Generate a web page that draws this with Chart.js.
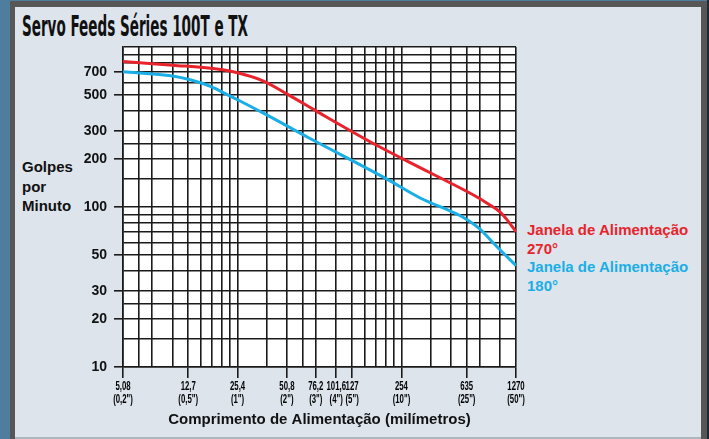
<!DOCTYPE html>
<html>
<head>
<meta charset="utf-8">
<script src="https://cdn.jsdelivr.net/npm/chart.js@4.4.1/dist/chart.umd.min.js"></script>
<style>
  html, body { margin: 0; padding: 0; }
  body { width: 709px; height: 439px; overflow: hidden; position: relative; background: #4e7d9d; font-family: "Liberation Sans", Arial, sans-serif; }
  #frame { position: absolute; left: 10px; top: 1px; width: 697px; height: 438px; background: #575757; }
  #panel { position: absolute; left: 15px; top: 7px; width: 686px; height: 430px; background: #dde4ec; border-bottom: 2px solid #aeb6be; }
  #edge { position: absolute; left: 707px; top: 0; width: 2px; height: 439px; background: #1c2a34; }
  #title { position: absolute; left: 22px; top: 13px; font: bold 28px/28px "Liberation Sans Narrow", "DejaVu Sans Condensed", sans-serif; color: #111; white-space: nowrap; transform-origin: left top; }
  .txt { position: absolute; font-weight: bold; font-size: 15px; white-space: nowrap; }
  #ytitle { left: 22px; top: 157px; line-height: 19.5px; color: #111; }
  #lbl270 { left: 527px; top: 220px; line-height: 19px; color: #e8232b; }
  #lbl180 { left: 527px; top: 257px; line-height: 19px; color: #1aaee6; }
  #box { position: absolute; left: 0; top: 0; width: 709px; height: 439px; }
</style>
</head>
<body>
<div id="frame"></div>
<div id="panel"></div>
<div id="edge"></div>
<div id="title">Servo Feeds Séries 100T e TX</div>
<div id="ytitle" class="txt">Golpes<br>por<br>Minuto</div>
<div id="lbl270" class="txt">Janela de Alimentação<br>270°</div>
<div id="lbl180" class="txt">Janela de Alimentação<br>180°</div>
<div id="box"><canvas id="chart"></canvas></div>
<script>
// feed length (mm) / strokes per minute
const red270X = [5.08, 10.2, 19, 25.4, 36, 52, 76, 178, 370, 762, 840, 1016, 1111, 1270];
const red270Y = [812, 770, 728, 690, 616, 502, 400, 244, 166, 113, 106, 93, 84, 70];
const blue180X = [5.08, 10.2, 13.2, 17.5, 22.1, 25.4, 37, 68.5, 206, 335, 520, 600, 762, 962, 1270];
const blue180Y = [700, 659, 622, 566, 502, 468, 383, 272, 150, 113, 93, 86.5, 73, 57, 43];

// grid lines
const xGrid = [5.08, 6.35, 7.62, 10.16, 12.7, 15.24, 17.78, 20.32, 22.86, 25.4, 38.1, 50.8, 63.5, 76.2,
  101.6, 127, 152.4, 177.8, 203.2, 228.6, 254, 381, 508, 635, 762, 1016, 1270];
const yGrid = [10, 15, 20, 25, 30, 40, 50, 60, 70, 80, 90, 100, 150, 200, 250, 300, 400, 500, 600, 700, 800, 900, 1000];

// labelled ticks
const xTickValues = [5.08, 12.7, 25.4, 50.8, 76.2, 101.6, 127, 254, 635, 1270];
const xTickMm = ["5,08", "12,7", "25,4", "50,8", "76,2", "101,6", "127", "254", "635", "1270"];
const xTickInch = ['(0,2")', '(0,5")', '(1")', '(2")', '(3")', '(4")', '(5")', '(10")', '(25")', '(50")'];
const yTickValues = [10, 20, 30, 50, 100, 200, 300, 500, 700];

const gridColor = "#1b1b1b";
const findIdx = (list, v) => list.findIndex(t => Math.abs(t - v) / t < 0.001);

// squeeze title like the condensed original
const titleEl = document.getElementById("title");
titleEl.style.transform = "scaleX(" + (226 / titleEl.getBoundingClientRect().width) + ")";

const whiteArea = {
  id: "whiteArea",
  beforeDraw(chart) {
    const { ctx, chartArea: a } = chart;
    ctx.save();
    ctx.fillStyle = "#ffffff";
    ctx.fillRect(a.left, a.top, a.right - a.left, a.bottom - a.top);
    ctx.restore();
  }
};

// x tick labels are a condensed face in the original: squeeze them horizontally
const condensedXLabels = {
  id: "condensedXLabels",
  beforeDraw(chart) {
    const s = chart.scales.x;
    if (s._condensed) return;
    s._condensed = true;
    const orig = s.drawLabels;
    s.drawLabels = function (area) {
      const ctx = this.ctx;
      const fill = ctx.fillText;
      ctx.fillText = function (t, x, y) {
        this.save();
        this.translate(x, y);
        this.scale(0.6, 1);
        fill.call(this, t, 0, 0);
        this.restore();
      };
      orig.call(this, area);
      delete ctx.fillText;
    };
  }
};

new Chart(document.getElementById("chart"), {
  type: "line",
  data: {
    datasets: [
      {
        label: "Janela de Alimentação 270°",
        data: red270X.map((x, i) => ({ x, y: red270Y[i] })),
        borderColor: "#e8232b",
        borderWidth: 3,
        pointRadius: 0,
        cubicInterpolationMode: "monotone"
      },
      {
        label: "Janela de Alimentação 180°",
        data: blue180X.map((x, i) => ({ x, y: blue180Y[i] })),
        borderColor: "#1aaee6",
        borderWidth: 3,
        pointRadius: 0,
        cubicInterpolationMode: "monotone"
      }
    ]
  },
  options: {
    responsive: true,
    maintainAspectRatio: false,
    animation: false,
    layout: { padding: { top: 47, right: 193, left: 0, bottom: 0 } },
    plugins: { legend: { display: false }, tooltip: { enabled: false } },
    scales: {
      x: {
        type: "logarithmic",
        min: 5.08,
        max: 1270,
        afterBuildTicks: s => { s.ticks = xGrid.map(v => ({ value: v })); },
        afterFit: s => { s.height = 72; s.paddingLeft = 0; s.paddingRight = 0; },
        grid: {
          color: gridColor,
          lineWidth: 1.6,
          tickLength: 11,
          tickColor: c => (c.tick && findIdx(xTickValues, c.tick.value) >= 0 ? gridColor : "rgba(0,0,0,0)")
        },
        border: { color: gridColor, width: 1.6 },
        ticks: {
          autoSkip: false,
          maxRotation: 0,
          padding: 2,
          color: "#000",
          font: { family: "'Liberation Sans', Arial, sans-serif", size: 13, weight: "bold", lineHeight: 1.0 },
          callback: v => {
            const i = findIdx(xTickValues, v);
            return i >= 0 ? [xTickMm[i], xTickInch[i]] : "";
          }
        },
        title: {
          display: true,
          text: "Comprimento de Alimentação (milímetros)",
          color: "#111",
          font: { family: "'Liberation Sans', Arial, sans-serif", size: 15, weight: "bold" },
          padding: { top: 0, bottom: 10 }
        }
      },
      y: {
        type: "logarithmic",
        min: 10,
        max: 1000,
        afterBuildTicks: s => { s.ticks = yGrid.map(v => ({ value: v })); },
        afterFit: s => { s.width = 123; s.paddingTop = 0; s.paddingBottom = 0; },
        grid: {
          color: gridColor,
          lineWidth: 1.6,
          tickLength: 9,
          tickColor: c => (c.tick && findIdx(yTickValues, c.tick.value) >= 0 ? gridColor : "rgba(0,0,0,0)")
        },
        border: { color: gridColor, width: 1.6 },
        ticks: {
          autoSkip: false,
          padding: 7,
          color: "#111",
          font: { family: "'Liberation Sans', Arial, sans-serif", size: 14, weight: "bold" },
          callback: v => (findIdx(yTickValues, v) >= 0 ? String(v) : "")
        }
      }
    }
  },
  plugins: [whiteArea, condensedXLabels]
});
</script>
</body>
</html>
